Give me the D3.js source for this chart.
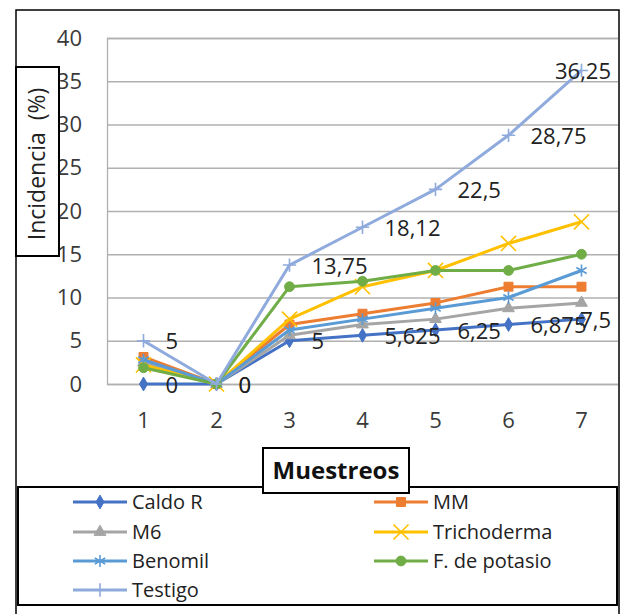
<!DOCTYPE html>
<html><head><meta charset="utf-8">
<script src="https://cdn.jsdelivr.net/npm/d3@7"></script>
<style>
html,body{margin:0;padding:0;background:#fff;}
svg{display:block;font-family:"Open Sans",sans-serif;}
</style></head>
<body>
<svg id="c" width="621" height="614"></svg>
<script>
// ---- data ----
const categories = [1, 2, 3, 4, 5, 6, 7];
const seriesNames = ["Caldo R", "MM", "M6", "Trichoderma", "Benomil", "F. de potasio", "Testigo"];
const caldoR      = [0, 0, 5, 5.625, 6.25, 6.875, 7.5];
const mm          = [3.125, 0, 6.875, 8.125, 9.375, 11.25, 11.25];
const m6          = [2.5, 0, 5.625, 6.875, 7.5, 8.75, 9.375];
const trichoderma = [2.2, 0, 7.5, 11.25, 13.125, 16.25, 18.75];
const benomil     = [2.8, 0, 6.25, 7.5, 8.75, 10, 13.125];
const fPotasio    = [1.875, 0, 11.25, 11.875, 13.125, 13.125, 15];
const testigo     = [5, 0, 13.75, 18.12, 22.5, 28.75, 36.25];
const caldoLabels   = ["0", "0", "5", "5,625", "6,25", "6,875", "7,5"];
const testigoLabels = ["5", "0", "13,75", "18,12", "22,5", "28,75", "36,25"];
const yTicks = [0, 5, 10, 15, 20, 25, 30, 35, 40];
const yTitle = "Incidencia\u00a0\u00a0(%)";
const xTitle = "Muestreos";

const colors = ["#4472C4", "#ED7D31", "#A5A5A5", "#FFC000", "#5B9BD5", "#70AD47", "#8FAADC"];
const symbols = [
  {t: d3.symbolDiamond, s: 55, fill: true},
  {t: d3.symbolSquare, s: 80, fill: true},
  {t: d3.symbolTriangle, s: 60, fill: true},
  {t: d3.symbolX, s: 150, fill: false},
  {t: d3.symbolAsterisk, s: 100, fill: false},
  {t: d3.symbolCircle, s: 75, fill: true},
  {t: d3.symbolPlus, s: 60, fill: false}
];
const seriesValues = [caldoR, mm, m6, trichoderma, benomil, fPotasio, testigo];

const svg = d3.select("#c");
const txt = "#3a3a3a";

// outer frame
svg.append("rect").attr("x", 16).attr("y", 10).attr("width", 603).attr("height", 615)
  .attr("fill", "#fff").attr("stroke", "#000").attr("stroke-width", 1.5);

const pL = 107, pR = 618, pT = 38, pB = 384;
const x = d3.scaleBand().domain(categories).range([pL, pR]);
const cx = c => x(c) + x.bandwidth() / 2;
const y = d3.scaleLinear().domain([0, 40]).range([pB, pT]);

// y axis + grid
const gy = svg.append("g").attr("transform", `translate(${pL},0)`)
  .call(d3.axisLeft(y).tickValues(yTicks).tickSize(-(pR - pL)).tickPadding(25).tickFormat(d3.format("d")));
gy.select(".domain").attr("stroke", "#b0b0b0").attr("stroke-width", 1.3);
gy.selectAll(".tick line").attr("stroke", "#b0b0b0").attr("stroke-width", 1.3);
gy.selectAll(".tick text").attr("fill", txt).style("font-size", "22px").style("font-family", "Open Sans");

// x axis
const gx = svg.append("g").attr("transform", `translate(0,${pB})`)
  .call(d3.axisBottom(x).tickSize(0));
gx.select(".domain").remove();
gx.selectAll(".tick text").attr("y", 36).attr("dy", "0.35em").attr("fill", txt)
  .style("font-size", "22px").style("font-family", "Open Sans");

// series
const line = d3.line().x((d, i) => cx(categories[i])).y(d => y(d));
seriesValues.forEach((vals, si) => {
  const g = svg.append("g");
  g.append("path").datum(vals).attr("d", line).attr("fill", "none")
    .attr("stroke", colors[si]).attr("stroke-width", 3).attr("stroke-linejoin", "round");
  const sym = symbols[si];
  g.selectAll("path.m").data(vals).join("path").attr("class", "m")
    .attr("transform", (d, i) => `translate(${cx(categories[i])},${y(d)})`)
    .attr("d", d3.symbol(sym.t, sym.s))
    .attr("fill", sym.fill ? colors[si] : "none")
    .attr("stroke", colors[si]).attr("stroke-width", sym.fill ? 1 : 1.6);
});

// data labels
function drawLabels(vals, labels) {
  svg.append("g").selectAll("text").data(vals).join("text")
    .attr("x", (d, i) => i === vals.length - 1 ? 611 : cx(categories[i]) + 22)
    .attr("text-anchor", (d, i) => i === vals.length - 1 ? "end" : "start")
    .attr("y", d => y(d) + 1)
    .attr("dy", "0.35em")
    .attr("fill", "#222").style("font-size", "22px")
    .text((d, i) => labels[i]);
}
drawLabels(caldoR, caldoLabels);
drawLabels(testigo, testigoLabels);

// y title box
svg.append("rect").attr("x", 16).attr("y", 67).attr("width", 43).attr("height", 189)
  .attr("fill", "#fff").attr("stroke", "#000").attr("stroke-width", 2);
svg.append("text").attr("transform", "translate(45,164) rotate(-90)")
  .attr("text-anchor", "middle").attr("fill", "#222").style("font-size", "23px").text(yTitle);

// legend
svg.append("rect").attr("x", 18).attr("y", 487).attr("width", 599).attr("height", 118)
  .attr("fill", "#fff").attr("stroke", "#000").attr("stroke-width", 2);
const legCols = [73, 374], legRows = [502, 532, 561, 590];
seriesNames.forEach((name, si) => {
  const lx = legCols[si % 2], ly = legRows[Math.floor(si / 2)];
  const g = svg.append("g");
  g.append("line").attr("x1", lx).attr("x2", lx + 54).attr("y1", ly).attr("y2", ly)
    .attr("stroke", colors[si]).attr("stroke-width", 3);
  const sym = symbols[si];
  g.append("path").attr("transform", `translate(${lx + 27},${ly})`)
    .attr("d", d3.symbol(sym.t, sym.s))
    .attr("fill", sym.fill ? colors[si] : "none")
    .attr("stroke", colors[si]).attr("stroke-width", sym.fill ? 1 : 1.6);
  g.append("text").attr("x", lx + 59).attr("y", ly).attr("dy", "0.35em")
    .attr("fill", "#222").style("font-size", "20px").text(name);
});

// x title box
svg.append("rect").attr("x", 263).attr("y", 448).attr("width", 146).attr("height", 45)
  .attr("fill", "#fff").attr("stroke", "#000").attr("stroke-width", 2);
svg.append("text").attr("x", 336).attr("y", 471).attr("dy", "0.35em").attr("text-anchor", "middle")
  .attr("fill", "#111").style("font-size", "24px").style("font-weight", "bold").text(xTitle);
</script>
</body></html>
